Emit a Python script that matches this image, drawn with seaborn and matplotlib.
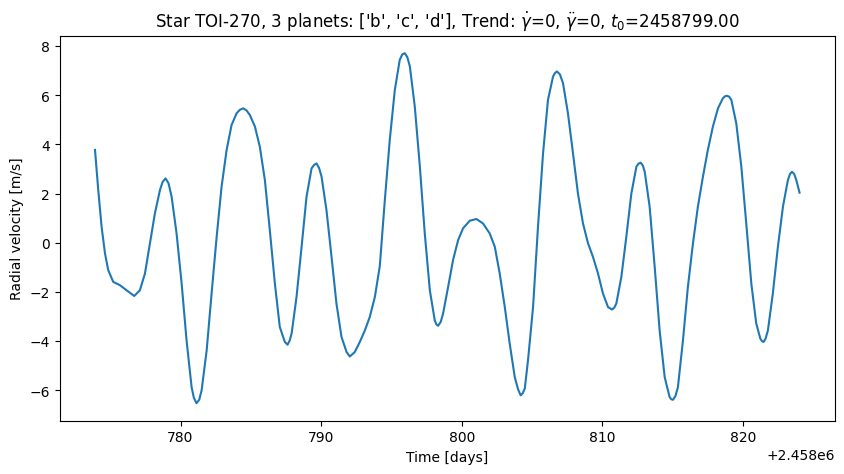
import matplotlib
matplotlib.use("Agg")
import matplotlib.pyplot as plt
import seaborn as sns
import pandas as pd

# Time offsets (days after 2458000) and radial velocity [m/s]
time_offset = [
    773.92, 774.15, 774.39, 774.63, 774.86, 775.22, 775.69, 776.17, 776.71, 777.11,
    777.47, 777.83, 778.18, 778.54, 778.73, 778.94, 779.15, 779.37, 779.72, 780.08,
    780.43, 780.79, 780.95, 781.14, 781.33, 781.50, 781.86, 782.21, 782.57, 782.92,
    783.28, 783.63, 783.99, 784.22, 784.46, 784.70, 784.93, 785.29, 785.64, 786.00,
    786.35, 786.71, 787.06, 787.42, 787.61, 787.76, 787.90, 788.25, 788.61, 788.96,
    789.32, 789.50, 789.67, 789.85, 790.03, 790.38, 790.74, 791.09, 791.45, 791.81,
    792.04, 792.39, 792.75, 793.11, 793.46, 793.82, 794.17, 794.53, 794.88, 795.24,
    795.59, 795.77, 795.95, 796.13, 796.31, 796.66, 797.02, 797.37, 797.73, 798.08,
    798.20, 798.32, 798.50, 798.67, 799.03, 799.38, 799.74, 800.09, 800.57, 801.04,
    801.51, 801.99, 802.35, 802.70, 803.06, 803.41, 803.77, 804.00, 804.19, 804.33,
    804.48, 804.71, 805.07, 805.42, 805.78, 806.13, 806.49, 806.62, 806.77, 806.98,
    807.20, 807.55, 807.91, 808.26, 808.62, 808.98, 809.33, 809.69, 810.04, 810.40,
    810.68, 810.84, 810.99, 811.35, 811.70, 812.06, 812.42, 812.57, 812.72, 812.87,
    813.01, 813.36, 813.72, 814.07, 814.43, 814.78, 814.90, 815.02, 815.20, 815.37,
    815.73, 816.08, 816.44, 816.79, 817.15, 817.50, 817.86, 818.22, 818.57, 818.72,
    818.86, 819.02, 819.17, 819.52, 819.88, 820.23, 820.59, 820.94, 821.23, 821.35,
    821.46, 821.60, 821.77, 822.12, 822.48, 822.84, 823.19, 823.34, 823.48, 823.64,
    823.79, 824.02,
]
rv = [
    3.78, 2.15, 0.65, -0.43, -1.11, -1.59, -1.72, -1.93, -2.16, -1.93,
    -1.25, -0.02, 1.20, 2.15, 2.48, 2.62, 2.42, 1.87, 0.38, -1.65,
    -3.96, -5.87, -6.30, -6.52, -6.38, -6.00, -4.37, -2.06, 0.24, 2.28,
    3.78, 4.79, 5.27, 5.41, 5.47, 5.38, 5.20, 4.73, 3.91, 2.55,
    0.52, -1.65, -3.42, -4.03, -4.14, -3.98, -3.69, -2.20, -0.16, 1.87,
    3.03, 3.17, 3.23, 3.05, 2.69, 1.33, -0.57, -2.47, -3.83, -4.44,
    -4.62, -4.44, -4.03, -3.56, -3.01, -2.20, -0.95, 1.74, 4.18, 6.22,
    7.44, 7.66, 7.71, 7.55, 7.17, 5.54, 3.10, 0.38, -1.93, -3.15,
    -3.32, -3.37, -3.22, -2.88, -1.79, -0.70, 0.11, 0.59, 0.90, 0.97,
    0.79, 0.38, -0.16, -1.25, -2.61, -4.10, -5.46, -5.95, -6.20, -6.12,
    -5.93, -4.78, -2.61, 0.65, 3.64, 5.81, 6.76, 6.90, 6.97, 6.85,
    6.49, 5.27, 3.64, 2.01, 0.79, -0.02, -0.57, -1.25, -2.06, -2.61,
    -2.71, -2.64, -2.47, -1.38, 0.24, 2.01, 3.10, 3.22, 3.26, 3.15,
    2.89, 1.47, -0.98, -3.56, -5.46, -6.27, -6.36, -6.38, -6.22, -5.87,
    -3.96, -1.79, -0.02, 1.47, 2.69, 3.78, 4.73, 5.47, 5.88, 5.96,
    5.98, 5.94, 5.81, 4.86, 3.10, 0.79, -1.65, -3.28, -3.89, -4.00,
    -4.03, -3.90, -3.56, -2.06, -0.16, 1.47, 2.55, 2.80, 2.89, 2.80,
    2.55, 2.04,
]
time_base = 2458000

df = pd.DataFrame({"time": [time_base + t for t in time_offset], "rv": rv})

fig, ax = plt.subplots(figsize=(10, 5), dpi=100)
sns.lineplot(data=df, x="time", y="rv", ax=ax, estimator=None, sort=False,
             color="#1f77b4", linewidth=1.5)
ax.set_xlabel("Time [days]")
ax.set_ylabel("Radial velocity [m/s]")
ax.set_title("Star TOI-270, 3 planets: ['b', 'c', 'd'], Trend: "
             r"$\dot{\gamma}$=0, $\ddot{\gamma}$=0, $t_0$=2458799.00")
fig.savefig("out.png", dpi=100, bbox_inches="tight")
